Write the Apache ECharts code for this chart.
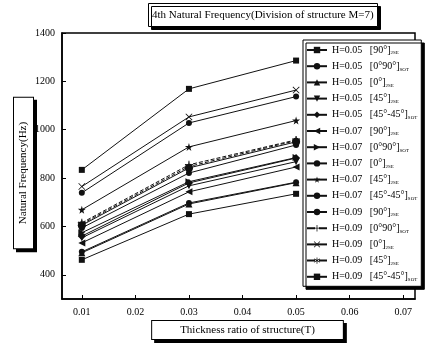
<!DOCTYPE html>
<html>
<head>
<meta charset="utf-8">
<script src="https://cdn.jsdelivr.net/npm/echarts@6/dist/echarts.min.js"></script>
<style>html,body{margin:0;padding:0;background:#fff;}#c{width:429px;height:343px;}</style>
</head>
<body>
<div id="c"></div>
<script>
const xValues = [0.01, 0.03, 0.05];
const xTicks = [0.01, 0.02, 0.03, 0.04, 0.05, 0.06, 0.07];
const yTicks = [400, 600, 800, 1000, 1200, 1400];
const hLabels = ['H=0.05','H=0.05','H=0.05','H=0.05','H=0.05','H=0.07','H=0.07','H=0.07','H=0.07','H=0.07','H=0.09','H=0.09','H=0.09','H=0.09','H=0.09'];
const layups = ['[90°]','[0°90°]','[0°]','[45°]','[45°-45°]','[90°]','[0°90°]','[0°]','[45°]','[45°-45°]','[90°]','[0°90°]','[0°]','[45°]','[45°-45°]'];
const subs = ['2SE','SOT','2SE','2SE','SOT','2SE','SOT','2SE','2SE','SOT','2SE','SOT','2SE','2SE','SOT'];
const s1 = [462, 651, 735];
const s2 = [495, 697, 783];
const s3 = [491, 693, 781];
const s4 = [553, 768, 868];
const s5 = [560, 780, 883];
const s6 = [532, 743, 846];
const s7 = [574, 785, 885];
const s8 = [594, 821, 937];
const s9 = [669, 929, 1038];
const s10 = [605, 842, 950];
const s11 = [739, 1028, 1137];
const s12 = [615, 855, 958];
const s13 = [765, 1053, 1164];
const s14 = [610, 848, 955];
const s15 = [834, 1169, 1286];
const seriesValues = [s1,s2,s3,s4,s5,s6,s7,s8,s9,s10,s11,s12,s13,s14,s15];

const STAR = 'path://M50,0 L61,35 L98,35 L68,57 L79,91 L50,70 L21,91 L32,57 L2,35 L39,35 Z';
const PLUS = 'path://M44,0 H56 V44 H100 V56 H56 V100 H44 V56 H0 V44 H44 Z';
const CROSS = 'path://M0,8 L8,0 L50,42 L92,0 L100,8 L58,50 L100,92 L92,100 L50,58 L8,100 L0,92 L42,50 Z';
const AST = 'path://M45,0 H55 V38 L88,19 L93,28 L60,50 L93,72 L88,81 L55,62 V100 H45 V62 L12,81 L7,72 L40,50 L7,28 L12,19 L45,38 Z';
const symbols = ['rect','circle','triangle','triangle','diamond','triangle','triangle','circle',STAR,'circle','circle',PLUS,CROSS,AST,'rect'];
const rotates = [0,0,0,180,0,90,-90,0,0,0,0,0,0,0,0];
const sizes = [6,6,7,7,8,7,7,6,8,8,6,8,7,8,6];
const lineTypes = ['solid','solid','solid','solid','solid','solid','solid','solid','solid','solid','solid','dashed','solid','dashed','solid'];

const SERIF = '"Liberation Serif","DejaVu Serif",serif';
const names = hLabels.map((h, i) => h + '  ' + layups[i] + ' ' + subs[i]);

const series = seriesValues.map((vals, i) => ({
  name: names[i],
  type: 'line',
  data: xValues.map((x, j) => [x, vals[j]]),
  symbol: symbols[i],
  symbolSize: sizes[i],
  symbolRotate: rotates[i],
  itemStyle: {color: '#111'},
  lineStyle: {color: '#111', width: 1, type: lineTypes[i]},
  emphasis: {disabled: true},
  animation: false
}));

const chart = echarts.init(document.getElementById('c'));
chart.setOption({
  animation: false,
  backgroundColor: '#fff',
  title: {
    text: '4th Natural Frequency(Division of structure M=7)',
    left: 148, top: 3,
    padding: [7, 4, 6, 4],
    backgroundColor: '#fff',
    borderColor: '#000', borderWidth: 1,
    shadowColor: '#000', shadowOffsetX: 3, shadowOffsetY: 3, shadowBlur: 0,
    textStyle: {fontFamily: SERIF, fontSize: 11, fontWeight: 'normal', color: '#000'}
  },
  legend: {
    orient: 'vertical',
    left: 303, top: 40,
    padding: [5, 4, 4, 3],
    itemGap: 5.7,
    itemWidth: 20, itemHeight: 8,
    backgroundColor: '#fff',
    borderColor: '#000', borderWidth: 1,
    shadowColor: '#000', shadowOffsetX: 3, shadowOffsetY: 3, shadowBlur: 0,
    selectedMode: false,
    data: names,
    formatter: function (name) {
      const i = names.indexOf(name);
      return '{m|' + hLabels[i] + '   ' + layups[i] + '}{s|' + subs[i] + '}';
    },
    textStyle: {
      fontFamily: SERIF, color: '#000', fontSize: 10,
      rich: {
        m: {fontFamily: SERIF, fontSize: 10, color: '#000', lineHeight: 11},
        s: {fontFamily: SERIF, fontSize: 5, color: '#000', verticalAlign: 'bottom', lineHeight: 11, padding: [5, 0, 0, 0]}
      }
    }
  },
  grid: {left: 62, right: 14, top: 33, bottom: 44, show: true, borderColor: '#000', borderWidth: 1.5,
    containLabel: false, outerBoundsMode: 'none'},
  xAxis: {
    type: 'value',
    min: 0.0063, max: 0.0722,
    name: '{b|Thickness ratio of structure(T)}',
    nameLocation: 'middle',
    nameGap: 22,
    nameMoveOverlap: false,
    nameTextStyle: {
      padding: [0, 0, 0, 18],
      rich: {
        b: {fontFamily: SERIF, fontSize: 11, color: '#000', backgroundColor: '#fff',
            borderColor: '#000', borderWidth: 1, padding: [4, 28, 3, 28],
            shadowColor: '#000', shadowOffsetX: 3, shadowOffsetY: 3, shadowBlur: 0}
      }
    },
    axisLine: {lineStyle: {color: '#000', width: 1.5}},
    axisTick: {inside: true, length: 4, customValues: xTicks, lineStyle: {color: '#000'}},
    axisLabel: {customValues: xTicks, margin: 8, fontFamily: SERIF, fontSize: 10, color: '#000',
      formatter: v => v.toFixed(2)},
    splitLine: {show: false}
  },
  yAxis: {
    type: 'value',
    min: 300, max: 1400,
    name: '{b|Natural Frequency(Hz)}',
    nameLocation: 'middle',
    nameGap: 29,
    nameRotate: 90,
    nameMoveOverlap: false,
    nameTextStyle: {
      padding: [0, 14, 0, 0],
      rich: {
        b: {fontFamily: SERIF, fontSize: 11, color: '#000', backgroundColor: '#fff',
            borderColor: '#000', borderWidth: 1, padding: [4, 24, 4, 24],
            shadowColor: '#000', shadowOffsetX: 3, shadowOffsetY: 3, shadowBlur: 0}
      }
    },
    axisLine: {show: true, lineStyle: {color: '#000', width: 1.5}},
    axisTick: {show: true, inside: true, length: 4, customValues: yTicks, lineStyle: {color: '#000'}},
    axisLabel: {customValues: yTicks, margin: 7, fontFamily: SERIF, fontSize: 10, color: '#000',
      formatter: v => String(v)},
    splitLine: {show: false}
  },
  series: series
});
</script>
</body>
</html>
